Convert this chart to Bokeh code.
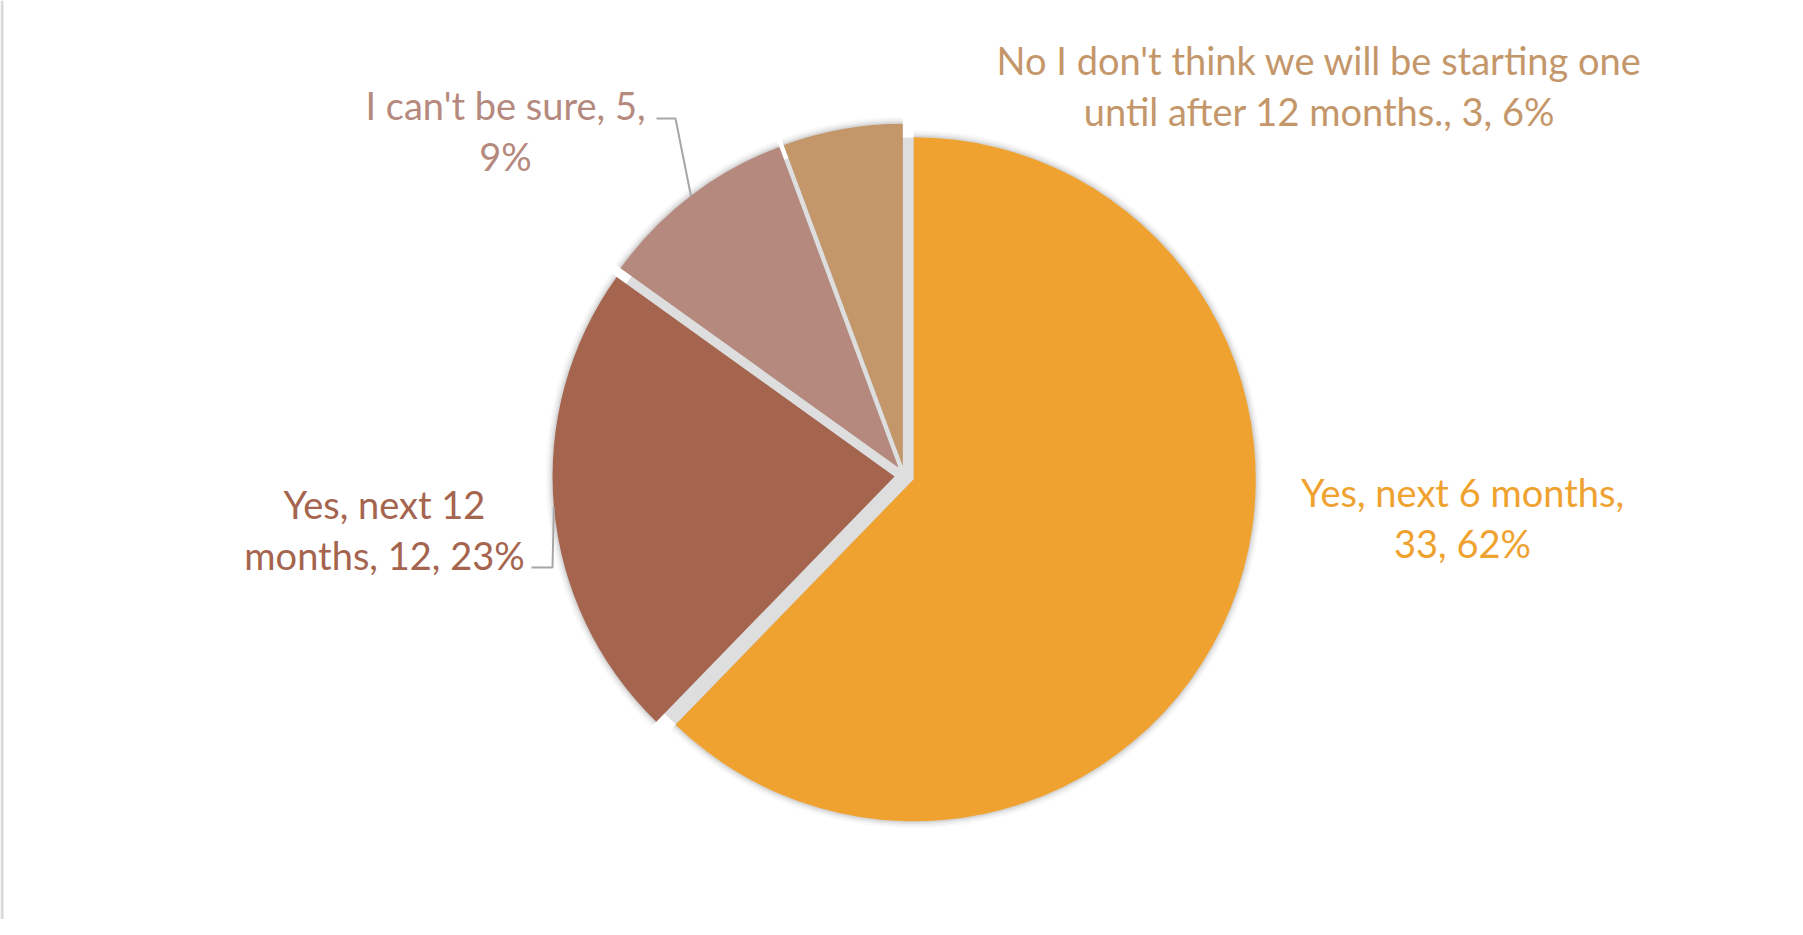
import math
from bokeh.plotting import figure
from bokeh.models import Range1d
from bokeh.core.properties import value
from bokeh.embed import file_html
from bokeh.resources import INLINE

# ---- data ----
categories = [
    "Yes, next 6 months",
    "Yes, next 12 months",
    "I can't be sure",
    "No I don't think we will be starting one until after 12 months.",
]
counts = [33, 12, 5, 3]
percents = [62, 23, 9, 6]
colors = ["#EFA22F", "#A5644E", "#B5897D", "#C4976B"]

# ---- layout (screen-like coords: x right, y measured from top of the 935px picture) ----
W, H = 1803, 935
O = (904, 475)        # pie centre before explosion
R = 342               # radius
EXPLODE = 10          # every slice pulled out along its mid angle
wrap_after = [19, 12, 19, 40]           # characters on the first label line
label_anchor = [(1462, 503), (384, 515), (505, 116), (1319, 71)]  # centre x, first baseline
TEXT_DY = -12
LINE_H = 51
FONT = "Lato"
FONT_SIZE = "38px"
# leader elbows (for labels that have one): start point, elbow point
leaders = {1: [(531, 567), (552, 567)], 2: [(656, 118), (675, 118)]}


def Y(y):
    return H - y


p = figure(width=1787, height=919, x_range=Range1d(0, 1787), y_range=Range1d(H - 919, H),
           output_backend="svg", toolbar_location=None, min_border=0,
           x_axis_type=None, y_axis_type=None)
p.grid.visible = False
p.outline_line_color = None
p.background_fill_color = "white"
p.border_fill_color = "white"

# chart-area frame edge visible at the left
p.quad(left=[0], right=[3], bottom=[H - 919], top=[H], fill_color="#D9D9D9", line_color=None)

total = sum(counts)
fracs = [c / total for c in counts]

# gap fill behind the slices
p.circle(x=[O[0]], y=[Y(O[1])], radius=R - 4, fill_color="#DEDEDE", line_color=None)

acc = 0.0
slices = []
for i, f in enumerate(fracs):
    a, b = acc, acc + f
    acc = b
    mid = (a + b) / 2
    m = math.pi / 2 - 2 * math.pi * mid
    cx = O[0] + EXPLODE * math.cos(m)
    cy = Y(O[1]) + EXPLODE * math.sin(m)
    start = math.pi / 2 - 2 * math.pi * b
    end = math.pi / 2 - 2 * math.pi * a
    slices.append((cx, cy, start, end, m))

# soft shadow
for (cx, cy, start, end, m) in slices:
    for dr, al in [(7, 0.025), (5, 0.035), (3, 0.05), (1.5, 0.06)]:
        p.wedge(x=[cx], y=[cy], radius=R + dr, start_angle=[start], end_angle=[end],
                fill_color="#000000", fill_alpha=al, line_color=None)

for i, (cx, cy, start, end, m) in enumerate(slices):
    p.wedge(x=[cx], y=[cy], radius=R, start_angle=[start], end_angle=[end],
            fill_color=colors[i], line_color=None)

# leader lines: elbow -> arc point at slice mid angle
for i, pts in leaders.items():
    cx, cy, start, end, m = slices[i]
    ex = cx + R * math.cos(m)
    ey = cy + R * math.sin(m)
    xs = [pt[0] for pt in pts] + [ex]
    ys = [Y(pt[1]) for pt in pts] + [ey]
    p.line(xs, ys, line_color="#A6A6A6", line_width=2)

# labels
tx, ty, tt, tc = [], [], [], []
for i, cat in enumerate(categories):
    full = f"{cat}, {counts[i]}, {percents[i]}%"
    lines = [full[:wrap_after[i]].strip(), full[wrap_after[i]:].strip()]
    ax, ay = label_anchor[i]
    for k, ln in enumerate(lines):
        tx.append(ax)
        ty.append(Y(ay + k * LINE_H + TEXT_DY))
        tt.append(ln)
        tc.append(colors[i])
p.text(x=tx, y=ty, text=tt, text_color=tc, text_font=value(FONT), text_font_size=FONT_SIZE,
       text_align="center", text_baseline="alphabetic")

open("out.html", "w").write(file_html(p, INLINE))
